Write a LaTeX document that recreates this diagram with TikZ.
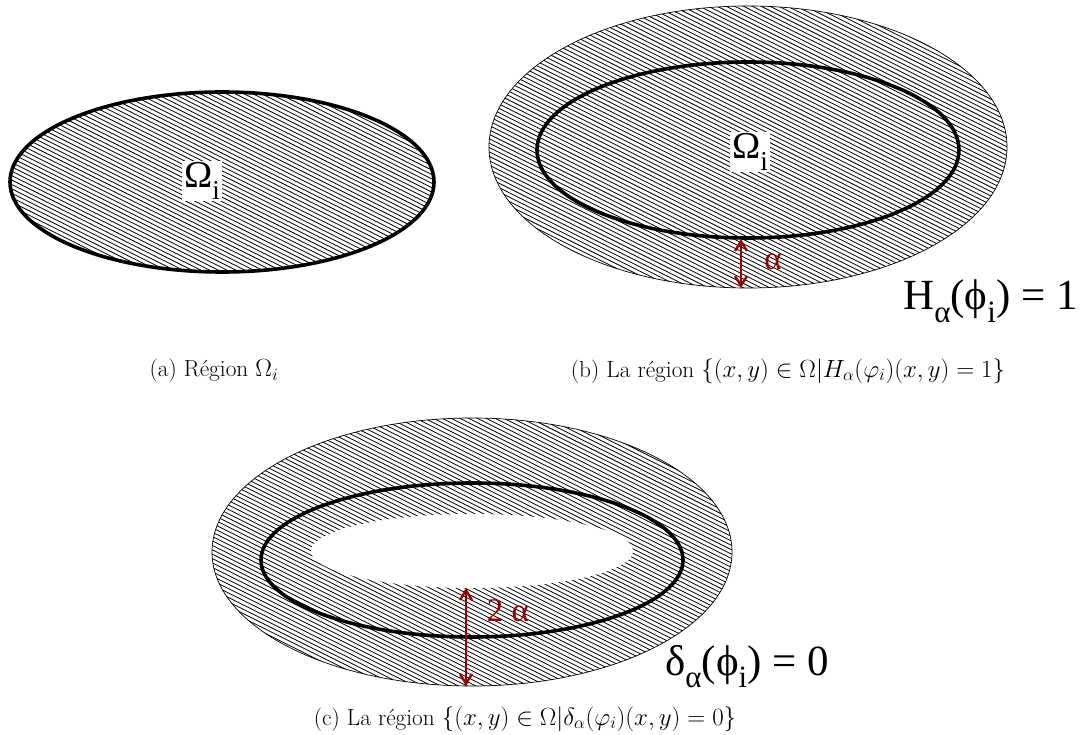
\documentclass[tikz,border=0pt]{standalone}
\usepackage{fontspec}
\usepackage{amsmath,amssymb}
\usepackage{graphicx}
\usepackage{tikz}
\usetikzlibrary{positioning,arrows.meta}
\usepackage{xcolor}

\newfontfamily\figfont{Liberation Serif}
\definecolor{gapred}{RGB}{150,0,0}

% lowered small index, as in the scanned labels
\newcommand{\lowsub}[1]{\raisebox{-0.3em}{\scalebox{0.72}{#1}}}
% hatching of the box x1 y1 x2 y2 (clip it first)
\newcommand{\hatchin}[4]{%
  \pgfmathtruncatemacro\hn{((#4-#2)+0.5*(#3-#1))/4.4+1}%
  \foreach \k in {0,...,\hn}{%
    \draw[hatchline] (#1,{#2-0.5*(#3-#1)+4.4*\k}) -- (#3,{#2+4.4*\k});}}

\begin{document}
\begin{tikzpicture}[x=1pt,y=-1pt,>={Straight Barb[length=3.4mm,width=4.2mm]},
  hatchline/.style={line width=0.8pt},
  rim/.style={line width=0.7pt},
  thickring/.style={line width=3.6pt},
  gaparrow/.style={<->,gapred,line width=2.4pt},
  omegalbl/.style={fill=white,inner sep=2pt,font=\figfont\fontsize{38}{40}\selectfont},
  redlbl/.style={text=gapred,inner sep=1pt,font=\figfont\fontsize{33}{36}\selectfont},
  fmla/.style={inner sep=0pt,font=\figfont\fontsize{43}{46}\selectfont},
  caplbl/.style={inner sep=0pt,font=\fontsize{23.3}{28}\selectfont}]
\useasboundingbox (0,0) rectangle (1088,735);

% (a) the region
\begin{scope}
\clip (222,182) ellipse [x radius=212, y radius=90];
\hatchin{10}{92}{434}{272}
\end{scope}
\draw[thickring] (222,182) ellipse [x radius=212, y radius=90];
\node[omegalbl] (omegaA) at (202,181) {Ω\lowsub{i}};

% (b) H = 1
\begin{scope}
\clip (748,147) ellipse [x radius=259, y radius=141];
\hatchin{489}{6}{1007}{288}
\end{scope}
\draw[rim] (748,147) ellipse [x radius=259, y radius=141];
\draw[thickring] (748,150) ellipse [x radius=211, y radius=88];
\node[omegalbl] (omegaB) at (750,152) {Ω\lowsub{i}};
\coordinate (ringB) at (741,239);
\coordinate (edgeB) at (741,288);
\draw[gaparrow] (ringB) -- (edgeB);
\node[redlbl] (alphaB) at (773,262) {α};
\node[fmla,anchor=base west] (hB) at (903,310) {H\lowsub{α}(ϕ\lowsub{i}) = 1};

% (c) delta = 0
\begin{scope}
\clip (472,552) ellipse [x radius=260, y radius=134];
\hatchin{212}{418}{732}{686}
\end{scope}
\fill[white] (472,551) ellipse [x radius=161, y radius=37];
\draw[rim] (472,552) ellipse [x radius=260, y radius=134];
\draw[thickring] (472,560) ellipse [x radius=211, y radius=77];
\coordinate (holeC) at (466,588);
\coordinate (edgeC) at (466,686);
\draw[gaparrow] (holeC) -- (edgeC);
\node[redlbl] (alphaC) at (508,611) {2 α};
\node[fmla,anchor=base west] (dC) at (665,675) {δ\lowsub{α}(ϕ\lowsub{i}) = 0};

% captions
\node[caplbl] (capA) at (214,371) {(a) Région $\Omega_i$};
\node[caplbl] (capB) at (788,371) {(b) La région $\{(x,y)\in\Omega|H_\alpha(\varphi_i)(x,y)=1\}$};
\node[caplbl] (capC) at (525,719) {(c) La région $\{(x,y)\in\Omega|\delta_\alpha(\varphi_i)(x,y)=0\}$};
\end{tikzpicture}
\end{document}
